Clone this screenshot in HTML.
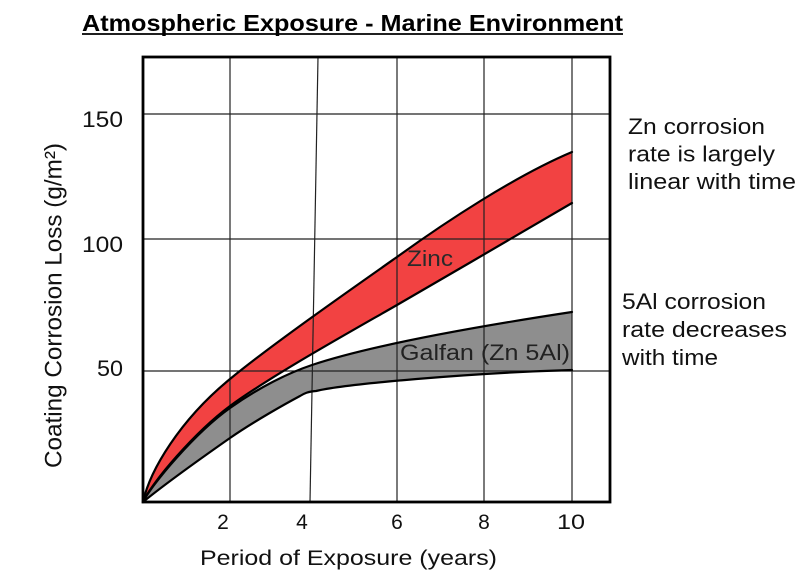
<!DOCTYPE html>
<html>
<head>
<meta charset="utf-8">
<style>
html,body{margin:0;padding:0;background:#fff;}
svg{display:block;}
text{font-family:"Liberation Sans",Arial,sans-serif;}
</style>
</head>
<body>
<svg width="807" height="588" viewBox="0 0 807 588" xmlns="http://www.w3.org/2000/svg">
<rect x="0" y="0" width="807" height="588" fill="#fff"/>

<!-- Title -->
<text x="82" y="31" font-size="23" font-weight="bold" fill="#000" textLength="541" lengthAdjust="spacingAndGlyphs">Atmospheric Exposure - Marine Environment</text>
<line x1="82" y1="34" x2="623" y2="34" stroke="#000" stroke-width="1.8"/>

<!-- Fills -->
<path fill="#8e8e8e" d="M143,502 C152,484 195,433 230,408 C258,388 288,373 312,365 C372,345 480,326 572,312 L572,370 C470,373 345,384 316,391 C308,391.5 304,393.5 300,396 C285,404 253,422 230,438 C200,459 165,484 143,502 Z"/>
<path fill="#f24242" d="M143,502 C150,470 180,420 230,379 C270,346 350,290 397,257 C444,223 515,176 572,152 L572,203 C515,236 455,271.7 397,305 C350,332 270,376.5 230,406 C195,432 152,482 143,502 Z"/>

<!-- Gridlines -->
<g stroke="#222" stroke-width="1.2">
<line x1="143" y1="114" x2="610" y2="114"/>
<line x1="143" y1="239" x2="610" y2="239"/>
<line x1="143" y1="371" x2="610" y2="371"/>
<line x1="230" y1="57" x2="230" y2="502"/>
<line x1="318" y1="57" x2="310" y2="502"/>
<line x1="397" y1="57" x2="397" y2="502"/>
<line x1="484" y1="57" x2="484" y2="502"/>
<line x1="572" y1="57" x2="572" y2="502"/>
</g>

<!-- Curves -->
<g fill="none" stroke="#000" stroke-width="2.2" stroke-linejoin="round" stroke-linecap="round">
<path d="M143,502 C165,484 200,459 230,438 C253,422 285,404 300,396 C304,393.5 308,391.5 316,391 C345,384 470,373 572,370"/>
<path d="M143,502 C152,484 195,433 230,408 C258,388 288,373 312,365 C372,345 480,326 572,312"/>
<path d="M143,502 C152,482 195,432 230,406 C270,376.5 350,332 397,305 C455,271.7 515,236 572,203"/>
<path d="M143,502 C150,470 180,420 230,379 C270,346 350,290 397,257 C444,223 515,176 572,152"/>
</g>

<!-- Box -->
<rect x="143" y="57" width="467" height="445" fill="none" stroke="#000" stroke-width="2.8"/>

<!-- In-plot labels -->
<text x="407" y="266" font-size="22" fill="#2a2a2a" textLength="46" lengthAdjust="spacingAndGlyphs">Zinc</text>
<text x="400" y="360" font-size="22" fill="#222" textLength="170" lengthAdjust="spacingAndGlyphs">Galfan (Zn 5Al)</text>

<!-- Y tick labels -->
<g font-size="22" fill="#111">
<text x="82" y="127" textLength="41" lengthAdjust="spacingAndGlyphs">150</text>
<text x="82" y="252" textLength="41" lengthAdjust="spacingAndGlyphs">100</text>
<text x="97" y="376" textLength="26" lengthAdjust="spacingAndGlyphs">50</text>
</g>

<!-- X tick labels -->
<g font-size="21" fill="#111" text-anchor="middle">
<text x="223" y="529">2</text>
<text x="302" y="529">4</text>
<text x="397" y="529">6</text>
<text x="484" y="529">8</text>
<text x="571" y="529" textLength="28" lengthAdjust="spacingAndGlyphs">10</text>
</g>

<!-- Axis titles -->
<text x="200" y="565" font-size="21" fill="#111" textLength="297" lengthAdjust="spacingAndGlyphs">Period of Exposure (years)</text>
<text transform="translate(61.5,468) rotate(-90)" x="0" y="0" font-size="24" fill="#111" textLength="325" lengthAdjust="spacingAndGlyphs">Coating Corrosion Loss (g/m²)</text>

<!-- Right annotations -->
<g font-size="22" fill="#111">
<text x="628" y="134" textLength="137" lengthAdjust="spacingAndGlyphs">Zn corrosion</text>
<text x="628" y="161.5" textLength="147" lengthAdjust="spacingAndGlyphs">rate is largely</text>
<text x="628" y="189" textLength="168" lengthAdjust="spacingAndGlyphs">linear with time</text>
<text x="622" y="309" textLength="144" lengthAdjust="spacingAndGlyphs">5Al corrosion</text>
<text x="622" y="337" textLength="165" lengthAdjust="spacingAndGlyphs">rate decreases</text>
<text x="622" y="365" textLength="96" lengthAdjust="spacingAndGlyphs">with time</text>
</g>
</svg>
</body>
</html>
